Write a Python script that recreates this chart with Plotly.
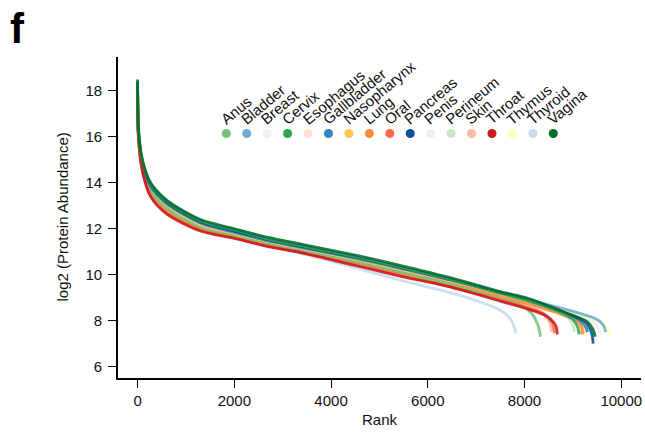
import plotly.graph_objects as go

# ---------------- data ----------------
tissues = ["Anus", "Bladder", "Breast", "Cervix", "Esophagus", "Gallbladder",
           "Nasopharynx", "Lung", "Oral", "Pancreas", "Penis", "Perineum",
           "Skin", "Throat", "Thymus", "Thyroid", "Vagina"]
colors = ["#74c476", "#6baed6", "#efedf5", "#31a354", "#fee0d2", "#3182bd",
          "#fec44f", "#fd8d3c", "#fb6a4a", "#08519c", "#eeeeee", "#c7e9c0",
          "#fcbba1", "#cb181d", "#ffffb2", "#c6dbef", "#006d2c"]

x_ticks = [0, 2000, 4000, 6000, 8000, 10000]
x_tick_text = ["0", "2000", "4000", "6000", "8000", "10000"]
y_ticks = [6, 8, 10, 12, 14, 16, 18]

body_rank = [0, 20, 100, 270, 600, 1300, 2000, 2700, 3400, 4500, 5400, 6500, 7500]

anus_val = [18.3, 16.0, 14.7, 13.65, 12.9, 12.05, 11.68, 11.32, 11.02, 10.55, 10.12, 9.55, 8.95]
anus_tail_rank = [7900, 8150, 8280, 8330]
anus_tail_val = [8.7, 8.3, 7.8, 7.3]

bladder_val = [18.3, 16.1, 14.8, 13.8, 13.05, 12.2, 11.8, 11.45, 11.15, 10.7, 10.28, 9.75, 9.22]
bladder_tail_rank = [8100, 9000, 9500, 9630, 9680]
bladder_tail_val = [8.9, 8.4, 8.05, 7.8, 7.5]

breast_val = [18.3, 16.0, 14.7, 13.7, 12.95, 12.1, 11.72, 11.38, 11.08, 10.62, 10.2, 9.65, 9.1]
breast_tail_rank = [8100, 8900, 9300, 9420, 9460]
breast_tail_val = [8.75, 8.25, 7.9, 7.65, 7.4]

cervix_val = [18.4, 16.2, 14.95, 13.95, 13.2, 12.35, 11.95, 11.55, 11.25, 10.78, 10.35, 9.78, 9.2]
cervix_tail_rank = [8100, 8700, 9000, 9100, 9130]
cervix_tail_val = [8.85, 8.4, 8.05, 7.7, 7.4]

esophagus_val = [18.3, 16.0, 14.7, 13.7, 12.95, 12.1, 11.72, 11.36, 11.06, 10.6, 10.18, 9.62, 9.08]
esophagus_tail_rank = [8100, 8700, 9050, 9150, 9190]
esophagus_tail_val = [8.7, 8.3, 7.95, 7.7, 7.4]

gallbladder_val = [18.3, 16.1, 14.85, 13.85, 13.1, 12.25, 11.85, 11.48, 11.18, 10.72, 10.3, 9.75, 9.2]
gallbladder_tail_rank = [8100, 8800, 9150, 9270, 9300]
gallbladder_tail_val = [8.85, 8.35, 8.0, 7.7, 7.5]

nasopharynx_val = [18.3, 16.05, 14.75, 13.75, 13.0, 12.15, 11.78, 11.42, 11.13, 10.68, 10.25, 9.7, 9.15]
nasopharynx_tail_rank = [8100, 8800, 9100, 9200, 9230]
nasopharynx_tail_val = [8.8, 8.35, 8.05, 7.75, 7.45]

lung_val = [18.3, 15.95, 14.6, 13.55, 12.8, 12.0, 11.65, 11.3, 11.0, 10.55, 10.12, 9.6, 9.05]
lung_tail_rank = [8100, 8800, 9100, 9180, 9200]
lung_tail_val = [8.7, 8.25, 7.95, 7.7, 7.4]

oral_val = [18.3, 15.9, 14.55, 13.45, 12.7, 11.95, 11.6, 11.25, 10.95, 10.45, 10.0, 9.45, 8.9]
oral_tail_rank = [8000, 8400, 8570, 8620]
oral_tail_val = [8.6, 8.3, 7.9, 7.45]

pancreas_val = [18.4, 16.2, 14.9, 13.9, 13.15, 12.3, 11.9, 11.52, 11.22, 10.75, 10.33, 9.78, 9.22]
pancreas_tail_rank = [8100, 8900, 9250, 9380, 9420]
pancreas_tail_val = [8.9, 8.3, 7.95, 7.5, 7.0]

penis_val = [18.3, 16.05, 14.75, 13.75, 13.0, 12.15, 11.75, 11.4, 11.1, 10.65, 10.22, 9.68, 9.12]
penis_tail_rank = [8100, 9000, 9400, 9520, 9560]
penis_tail_val = [8.8, 8.3, 7.95, 7.7, 7.4]

perineum_val = [18.3, 16.1, 14.85, 13.85, 13.1, 12.25, 11.85, 11.5, 11.2, 10.75, 10.32, 9.8, 9.2]
perineum_tail_rank = [8100, 8600, 8900, 9000, 9030]
perineum_tail_val = [8.85, 8.45, 8.1, 7.8, 7.5]

skin_val = [18.3, 15.95, 14.6, 13.5, 12.75, 11.98, 11.62, 11.28, 10.98, 10.5, 10.05, 9.5, 8.95]
skin_tail_rank = [8000, 8350, 8500, 8560]
skin_tail_val = [8.65, 8.35, 8.0, 7.5]

throat_val = [18.3, 15.9, 14.5, 13.4, 12.65, 11.9, 11.58, 11.22, 10.95, 10.4, 9.95, 9.45, 8.85]
throat_tail_rank = [8000, 8450, 8640, 8680]
throat_tail_val = [8.55, 8.2, 7.8, 7.4]

thymus_val = [18.3, 16.1, 14.8, 13.8, 13.05, 12.2, 11.85, 11.5, 11.2, 10.75, 10.3, 9.75, 9.2]
thymus_tail_rank = [8100, 9000, 9500, 9700, 9760]
thymus_tail_val = [8.9, 8.35, 8.0, 7.7, 7.4]

thyroid_rank = [0, 20, 100, 270, 600, 1300, 2000, 2700, 3400, 4500, 5400, 6500, 7100, 7500, 7700, 7790, 7820]
thyroid_val = [18.3, 16.0, 14.7, 13.65, 12.9, 12.05, 11.65, 11.25, 10.92, 10.3, 9.78, 9.2, 8.8, 8.45, 8.1, 7.7, 7.45]

vagina_val = [18.5, 16.3, 15.0, 14.0, 13.25, 12.4, 12.0, 11.62, 11.32, 10.85, 10.42, 9.85, 9.26]
vagina_tail_rank = [8100, 8880, 9300, 9420, 9460]
vagina_tail_val = [8.95, 8.32, 7.95, 7.6, 7.3]

series = {
    "Anus": (body_rank + anus_tail_rank, anus_val + anus_tail_val),
    "Bladder": (body_rank + bladder_tail_rank, bladder_val + bladder_tail_val),
    "Breast": (body_rank + breast_tail_rank, breast_val + breast_tail_val),
    "Cervix": (body_rank + cervix_tail_rank, cervix_val + cervix_tail_val),
    "Esophagus": (body_rank + esophagus_tail_rank, esophagus_val + esophagus_tail_val),
    "Gallbladder": (body_rank + gallbladder_tail_rank, gallbladder_val + gallbladder_tail_val),
    "Nasopharynx": (body_rank + nasopharynx_tail_rank, nasopharynx_val + nasopharynx_tail_val),
    "Lung": (body_rank + lung_tail_rank, lung_val + lung_tail_val),
    "Oral": (body_rank + oral_tail_rank, oral_val + oral_tail_val),
    "Pancreas": (body_rank + pancreas_tail_rank, pancreas_val + pancreas_tail_val),
    "Penis": (body_rank + penis_tail_rank, penis_val + penis_tail_val),
    "Perineum": (body_rank + perineum_tail_rank, perineum_val + perineum_tail_val),
    "Skin": (body_rank + skin_tail_rank, skin_val + skin_tail_val),
    "Throat": (body_rank + throat_tail_rank, throat_val + throat_tail_val),
    "Thymus": (body_rank + thymus_tail_rank, thymus_val + thymus_tail_val),
    "Thyroid": (thyroid_rank, thyroid_val),
    "Vagina": (body_rank + vagina_tail_rank, vagina_val + vagina_tail_val),
}

# drawing order: pale first, strong last
draw_order = ["Breast", "Penis", "Esophagus", "Thymus", "Perineum", "Skin",
              "Thyroid", "Bladder", "Nasopharynx", "Lung", "Anus", "Gallbladder",
              "Pancreas", "Oral", "Throat", "Cervix", "Vagina"]

FONT = "Liberation Sans, Arial, Helvetica, sans-serif"

# layout positions for the in-plot legend
LEG_X0, LEG_DX, LEG_Y = 1834, 422.5, 16.15

fig = go.Figure()
for name in draw_order:
    i = tissues.index(name)
    xs, ys = series[name]
    fig.add_trace(go.Scatter(
        x=xs, y=ys, mode="lines", name=name,
        line=dict(color=colors[i], width=2.8, shape="spline", smoothing=0.8),
        opacity=0.88, showlegend=False, hoverinfo="skip"))

leg_x = [LEG_X0 + LEG_DX * k for k in range(len(tissues))]
fig.add_trace(go.Scatter(
    x=leg_x, y=[LEG_Y] * len(tissues), mode="markers",
    marker=dict(color=colors, size=9, line=dict(width=0)),
    showlegend=False, hoverinfo="skip"))

annotations = []
for k, name in enumerate(tissues):
    annotations.append(dict(
        x=leg_x[k], y=LEG_Y, xref="x", yref="y", text=name, showarrow=False,
        textangle=-40, xanchor="left", yanchor="bottom", xshift=-12, yshift=3,
        font=dict(family=FONT, size=15, color="#111111")))

annotations.append(dict(x=-0.21, y=1.168, xref="paper", yref="paper", text="<b>f</b>",
                        showarrow=False, xanchor="left", yanchor="top",
                        font=dict(family=FONT, size=42, color="black")))
annotations.append(dict(x=0.5, y=-0.13, xref="paper", yref="paper", text="Rank",
                        showarrow=False, xanchor="center", yanchor="middle",
                        font=dict(family=FONT, size=15, color="#111111")))
annotations.append(dict(x=-0.107, y=0.5, xref="paper", yref="paper",
                        text="log2 (Protein Abundance)", textangle=-90,
                        showarrow=False, xanchor="center", yanchor="middle",
                        font=dict(family=FONT, size=15, color="#111111")))

fig.update_layout(
    width=645, height=435,
    margin=dict(l=118, r=4, t=57, b=57),
    paper_bgcolor="white", plot_bgcolor="white",
    font=dict(family=FONT, size=15, color="#111111"),
    annotations=annotations,
    showlegend=False,
)
fig.update_xaxes(range=[-405, 10408], tickvals=x_ticks, ticktext=x_tick_text,
                 showgrid=False, zeroline=False, showline=True, linecolor="black",
                 linewidth=1.8, ticks="outside", ticklen=8, tickwidth=1.4,
                 tickcolor="black", tickfont=dict(size=15))
fig.update_yaxes(range=[5.5, 19.48], tickvals=y_ticks,
                 showgrid=False, zeroline=False, showline=True, linecolor="black",
                 linewidth=1.8, ticks="outside", ticklen=8, tickwidth=1.4,
                 tickcolor="black", tickfont=dict(size=15), ticklabelstandoff=3)

fig.write_html("out.html")
